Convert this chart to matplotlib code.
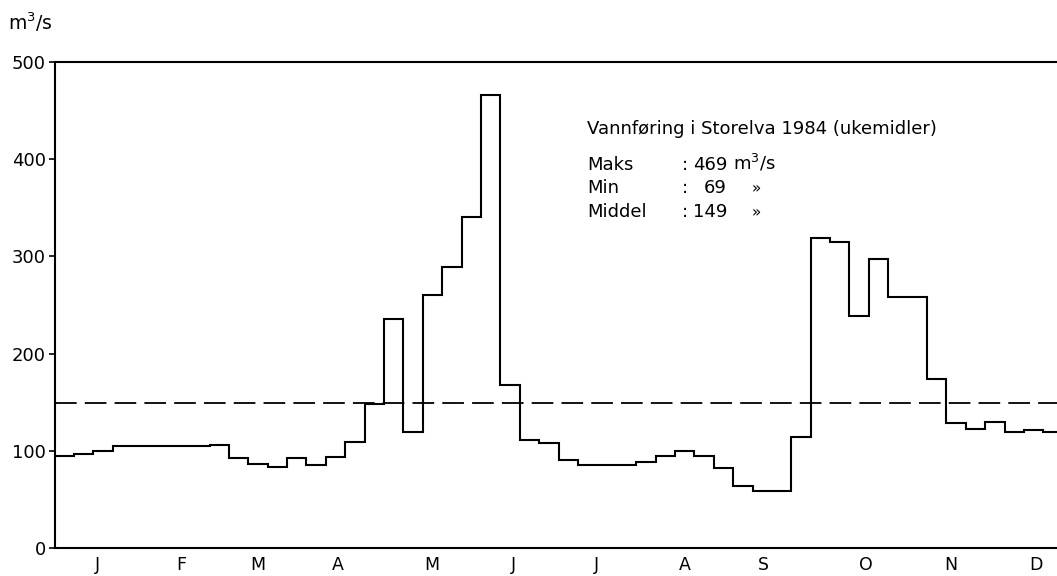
import numpy as np
import matplotlib
matplotlib.use("Agg")
import matplotlib.pyplot as plt

# Weekly mean discharge, Storelva 1984 (m3/s), one value per week
flow = [94, 97, 99.5, 104.5, 104.5, 104.5, 104.5, 104.5, 105.5, 92.5,
        86.5, 83.5, 92, 85.5, 93, 109, 148, 236, 119, 260,
        289, 341, 466, 168, 111, 108, 90.5, 85, 85, 85,
        88.5, 95, 100, 94, 82, 64, 58.5, 58.5, 114.5, 319,
        315, 239, 297, 258, 258, 174, 128, 122, 129, 119,
        121, 119]
mean_flow = 149

months = ["J", "F", "M", "A", "M", "J", "J", "A", "S", "O", "N", "D"]
month_pos = [2.24, 6.52, 10.49, 14.61, 19.46, 23.68, 27.96, 32.5, 36.57, 41.83, 46.21, 50.59]
yticks = [0, 100, 200, 300, 400, 500]

title = "Vannføring i Storelva 1984 (ukemidler)"
stat_names = ["Maks", "Min", "Middel"]
stat_numbers = ["469", "69", "149"]
stat_units = ["m$^3$/s", "»", "»"]

FONT = "DejaVu Sans"
fig = plt.figure(figsize=(10.57, 5.76), dpi=100)
ax = fig.add_axes([0.052, 0.049, 0.948, 0.843])

edges = np.arange(len(flow) + 1)
ax.stairs(flow, edges, baseline=None, color="black", lw=1.5)
ax.axhline(mean_flow, color="black", lw=1.3, dashes=(12, 4.5))

ax.set_xlim(0.03, 51.7)
ax.set_ylim(0, 500)
ax.set_yticks(yticks)
ax.set_yticklabels([str(v) for v in yticks], fontsize=13, family=FONT)
ax.set_xticks(month_pos)
ax.set_xticklabels(months, fontsize=12.5, family=FONT)
ax.tick_params(axis="x", length=0, pad=6)
ax.tick_params(axis="y", length=4, width=1.2, pad=2.5, direction="out")

for s in ["top", "left", "bottom"]:
    ax.spines[s].set_linewidth(1.5)
ax.spines["right"].set_visible(False)

fig.text(0.008, 0.948, "m$^3$/s", fontsize=13.5, ha="left", va="baseline",
         family=FONT)

fs = 13
fig.text(0.5553, 0.7665, title, fontsize=fs, family=FONT,
         ha="left", va="baseline")
row_base = [0.7057, 0.6641, 0.6224]
for name, num, unit, yy in zip(stat_names, stat_numbers, stat_units, row_base):
    fig.text(0.5553, yy, name, fontsize=fs, family=FONT, ha="left", va="baseline")
    fig.text(0.6452, yy, ":", fontsize=fs, family=FONT, ha="left", va="baseline")
    fig.text(0.6878, yy, num, fontsize=fs, family=FONT, ha="right", va="baseline")
    if unit == "»":
        fig.text(0.7114, yy, unit, fontsize=fs - 2, family=FONT, ha="left", va="baseline")
    else:
        fig.text(0.6935, yy, unit, fontsize=fs, family=FONT, ha="left", va="baseline")

fig.savefig("out.png", dpi=100)
